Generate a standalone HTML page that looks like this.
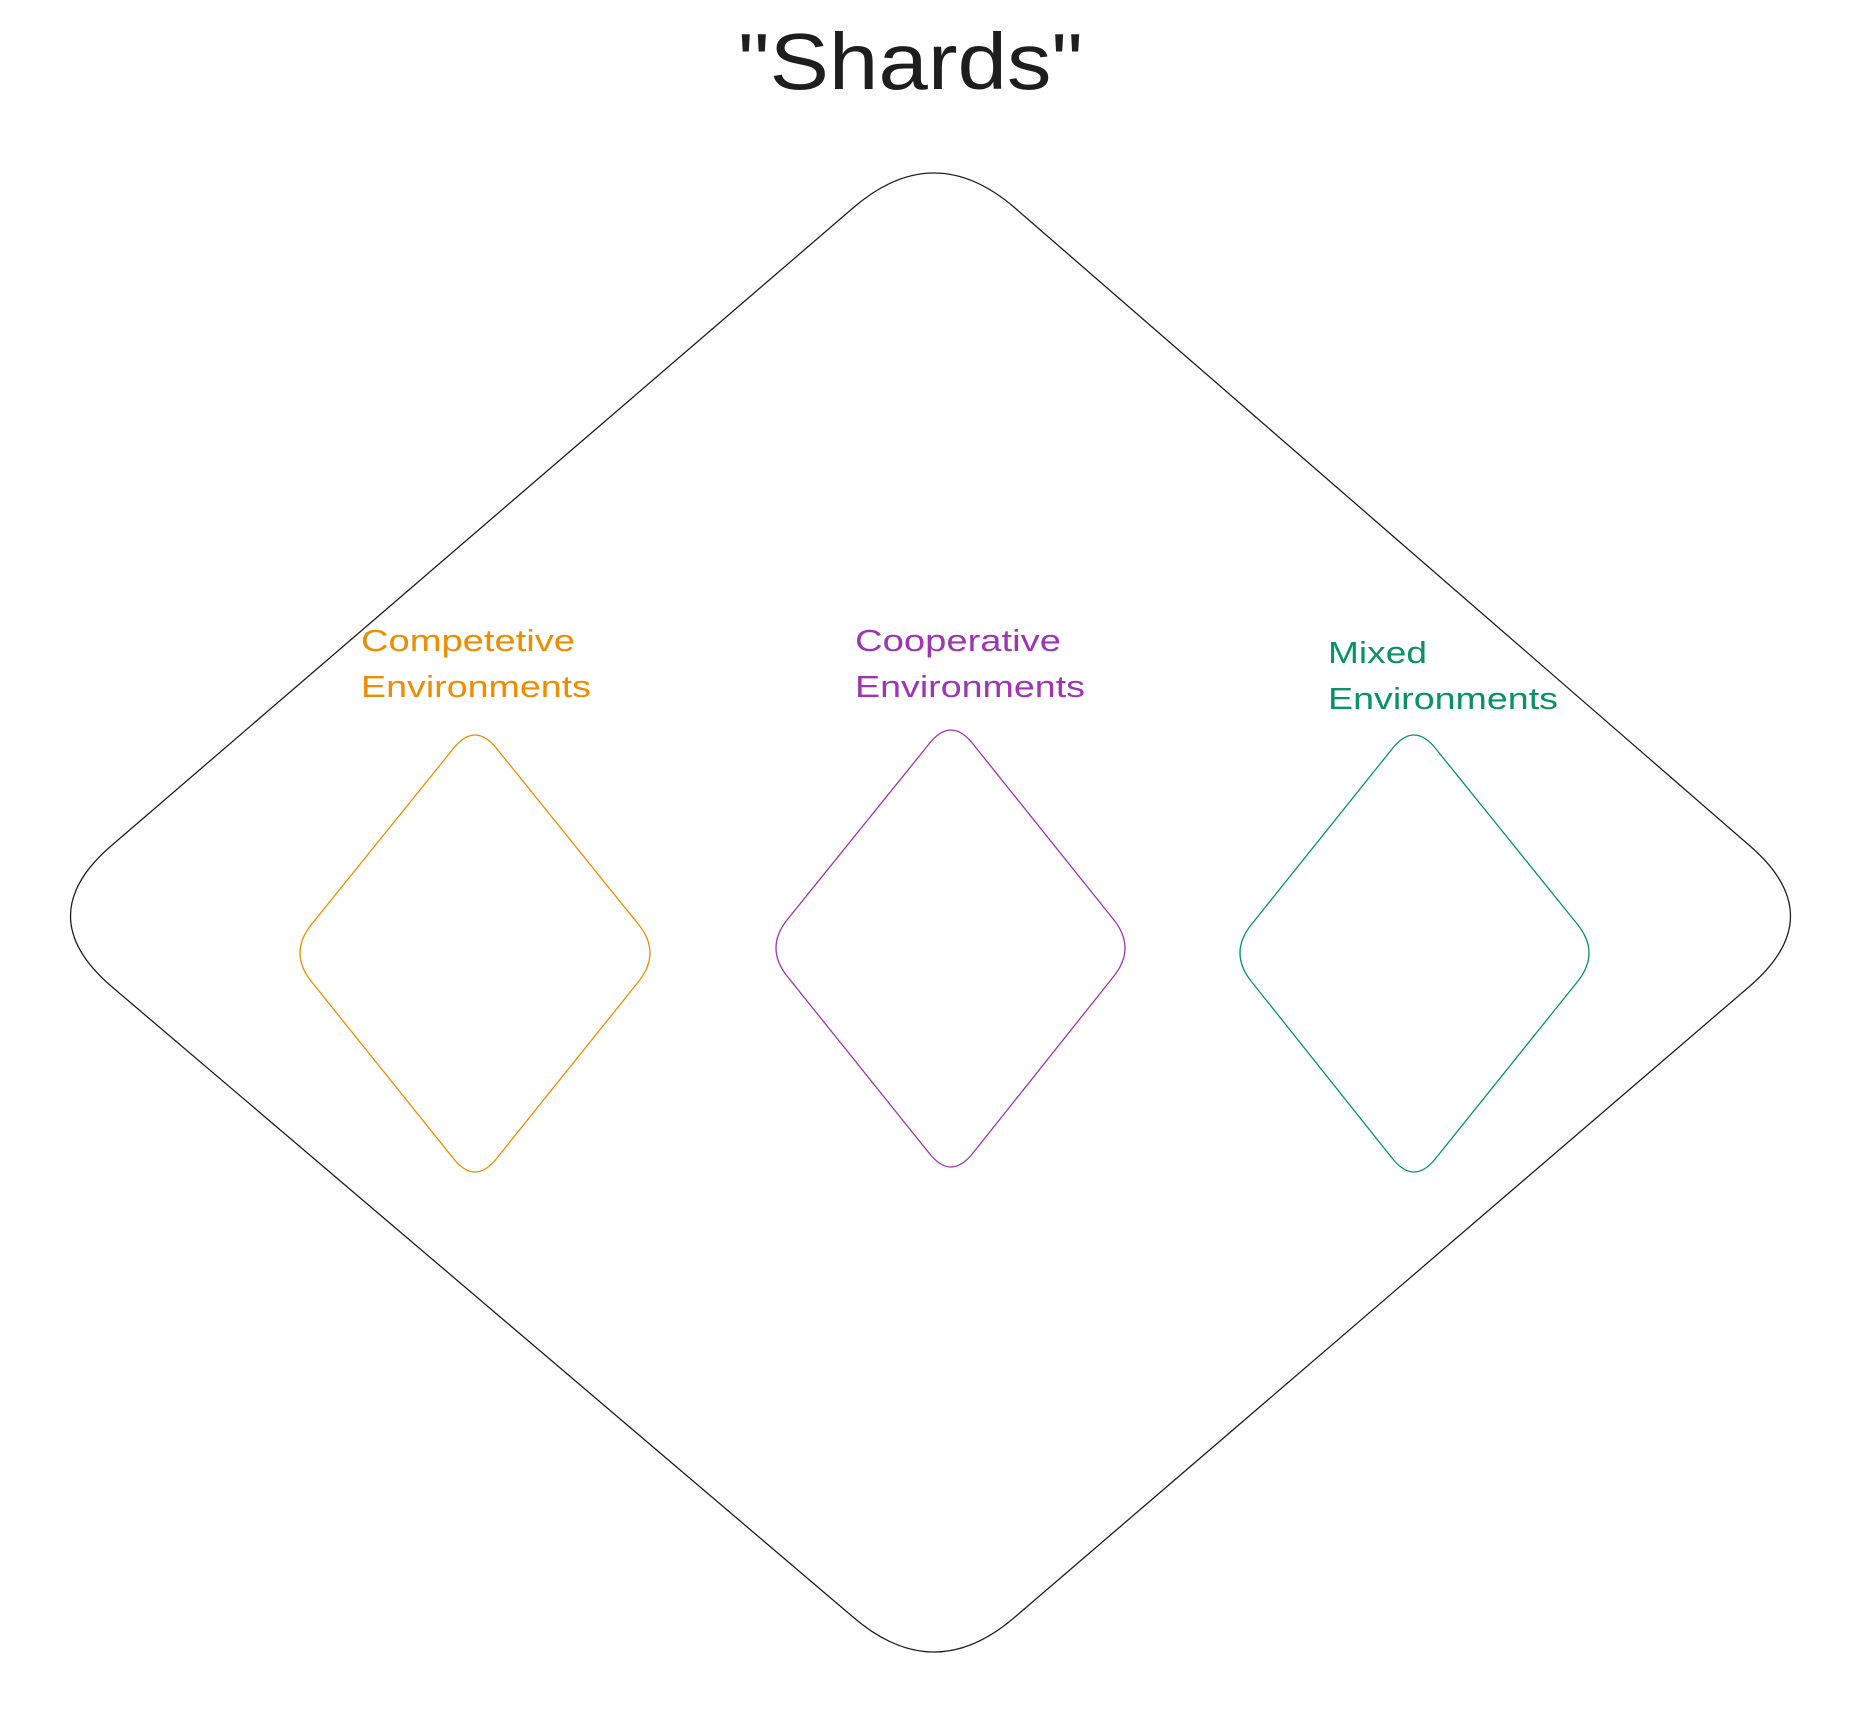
<!DOCTYPE html>
<html><head><meta charset="utf-8"><style>
html,body{margin:0;padding:0;background:#fff;}
body{width:1856px;height:1711px;position:relative;overflow:hidden;}
svg{position:absolute;left:0;top:0;}
.t{font-family:"Liberation Sans",sans-serif;}
</style></head><body>
<svg width="1856" height="1711" viewBox="0 0 1856 1711">
<g fill="none" stroke-width="1.3">
<path stroke="#1e1e1e" d="M 853 208 Q 934 138 1015 208 L 1750 846 Q 1831 916 1750 986 L 1015 1617 Q 934 1687 853 1617 L 111 986 Q 30 916 111 846 Z"/>
<path stroke="#f08c00" transform="translate(-2,-5)" d="M 455 754 Q 477 726 499 754 L 641 930 Q 663 958 641 986 L 499 1163 Q 477 1191 455 1163 L 313 986 Q 291 958 313 930 Z"/>
<path stroke="#9c36b5" transform="translate(-4,-5)" d="M 933 749 Q 955 721 977 749 L 1118 925 Q 1140 953 1118 981 L 977 1158 Q 955 1186 933 1158 L 791 981 Q 769 953 791 925 Z"/>
<path stroke="#099268" transform="translate(-7,-5)" d="M 1399 754 Q 1421 726 1443 754 L 1585 930 Q 1607 958 1585 986 L 1443 1163 Q 1421 1191 1399 1163 L 1258 986 Q 1236 958 1258 930 Z"/>
</g>
<text class="t" x="738" y="89" textLength="345" lengthAdjust="spacingAndGlyphs" font-size="80" fill="#1e1e1e">"Shards"</text>
<g class="t" font-size="31">
<text x="361" y="651" textLength="214" lengthAdjust="spacingAndGlyphs" fill="#f08c00">Competetive</text>
<text x="361" y="697" textLength="230" lengthAdjust="spacingAndGlyphs" fill="#f08c00">Environments</text>
<text x="855" y="651" textLength="206" lengthAdjust="spacingAndGlyphs" fill="#9c36b5">Cooperative</text>
<text x="855" y="697" textLength="230" lengthAdjust="spacingAndGlyphs" fill="#9c36b5">Environments</text>
<text x="1328" y="663" textLength="99" lengthAdjust="spacingAndGlyphs" fill="#099268">Mixed</text>
<text x="1328" y="709" textLength="230" lengthAdjust="spacingAndGlyphs" fill="#099268">Environments</text>
</g>
</svg>
</body></html>
